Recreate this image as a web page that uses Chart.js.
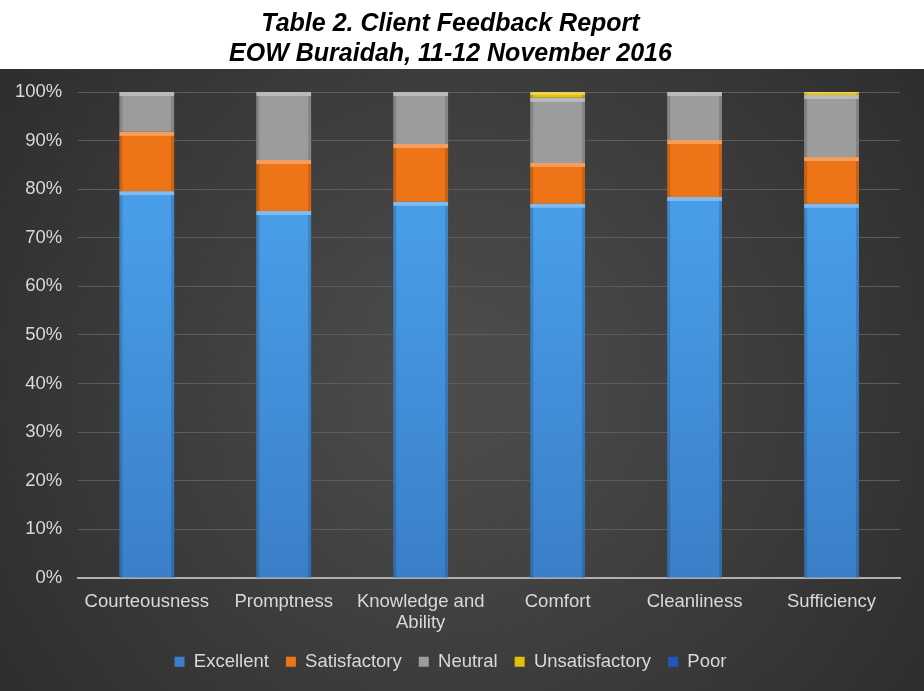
<!DOCTYPE html>
<html>
<head>
<meta charset="utf-8">
<script src="https://cdn.jsdelivr.net/npm/chart.js@4.4.0/dist/chart.umd.min.js"></script>
<style>
  html, body { margin: 0; padding: 0; background: #fff; }
  #wrap { width: 924px; height: 691px; }
</style>
</head>
<body>
<div id="wrap"><canvas id="barChart" width="924" height="691"></canvas></div>
<script>
const categories = ['Courteousness', 'Promptness', ['Knowledge and', 'Ability'], 'Comfort', 'Cleanliness', 'Sufficiency'];
const excellent = [79.6, 75.5, 77.4, 77.0, 78.4, 77.0];
const satisfactory = [12.2, 10.5, 11.9, 8.4, 11.7, 9.6];
const neutral = [8.2, 14.0, 10.7, 13.4, 9.9, 12.8];
const unsatisfactory = [0, 0, 0, 1.2, 0, 0.6];
const poor = [0, 0, 0, 0, 0, 0];
const yTicks = [0, 10, 20, 30, 40, 50, 60, 70, 80, 90, 100];

const headerHeight = 69;

// dark background below the white title band
const backgroundPlugin = {
    id: 'darkBackground',
    beforeDraw(chart) {
        const ctx = chart.ctx;
        const w = chart.width, h = chart.height;
        ctx.save();
        ctx.fillStyle = '#ffffff';
        ctx.fillRect(0, 0, w, h);
        const g = ctx.createRadialGradient(w / 2, h * 0.55, 50, w / 2, h * 0.55, w * 0.65);
        g.addColorStop(0, '#4b4b4b');
        g.addColorStop(1, '#2b2b2b');
        ctx.fillStyle = g;
        ctx.fillRect(0, headerHeight, w, h - headerHeight);
        ctx.restore();
    }
};

// light top edge on each bar segment for a bevel look
const bevelPlugin = {
    id: 'bevel',
    afterDatasetsDraw(chart) {
        const ctx = chart.ctx;
        ctx.save();
        chart.data.datasets.forEach((ds, i) => {
            const meta = chart.getDatasetMeta(i);
            if (meta.hidden) return;
            meta.data.forEach((bar, j) => {
                if (!ds.data[j]) return;
                const left = bar.x - bar.width / 2;
                const top = Math.min(bar.y, bar.base);
                const hgt = Math.abs(bar.base - bar.y);
                const edge = Math.min(4, hgt / 2);
                ctx.fillStyle = 'rgba(255,255,255,0.3)';
                ctx.fillRect(left, top, bar.width, edge);
                ctx.fillStyle = 'rgba(0,0,0,0.15)';
                ctx.fillRect(left, top + edge, 3, hgt - edge);
                ctx.fillRect(left + bar.width - 3, top + edge, 3, hgt - edge);
            });
        });
        ctx.restore();
    }
};

function blueFill(context) {
    const area = context.chart.chartArea;
    if (!area) return '#3f8fdc';
    const g = context.chart.ctx.createLinearGradient(0, area.top, 0, area.bottom);
    g.addColorStop(0, '#4ea7f2');
    g.addColorStop(1, '#3a7fc8');
    return g;
}

const font = "'Liberation Sans', Arial, sans-serif";

const chartConfig = {
    type: 'bar',
    data: {
        labels: categories,
        datasets: [
            { label: 'Excellent', data: excellent, backgroundColor: blueFill },
            { label: 'Satisfactory', data: satisfactory, backgroundColor: '#ee7418' },
            { label: 'Neutral', data: neutral, backgroundColor: '#9c9c9c' },
            { label: 'Unsatisfactory', data: unsatisfactory, backgroundColor: '#e3c10a' },
            { label: 'Poor', data: poor, backgroundColor: '#2456b8' },
        ],
    },
    options: {
        responsive: false,
        animation: false,
        categoryPercentage: 1,
        barPercentage: 0.4,
        layout: { padding: { left: 1, right: 24, top: 0, bottom: 10 } },
        plugins: {
            title: {
                display: true,
                text: ['Table 2. Client Feedback Report', 'EOW Buraidah, 11-12 November 2016'],
                color: '#000',
                font: { family: font, size: 25, weight: 'bold', style: 'italic', lineHeight: 1.2 },
                padding: { top: 9, bottom: 23 },
            },
            legend: {
                position: 'bottom',
                labels: {
                    color: '#d9d9d9',
                    boxWidth: 10,
                    boxHeight: 10,
                    padding: 17,
                    font: { family: font, size: 18.5 },
                },
            },
            tooltip: { enabled: false },
        },
        scales: {
            x: {
                stacked: true,
                grid: { display: false },
                border: { color: '#b0b0b0', width: 2 },
                ticks: { color: '#d9d9d9', font: { family: font, size: 18.5, lineHeight: 1.15 }, maxRotation: 0, padding: 5 },
                afterFit(scale) { scale.height -= 3; },
            },
            y: {
                stacked: true,
                min: 0,
                max: 100,
                afterBuildTicks(axis) { axis.ticks = yTicks.map(v => ({ value: v })); },
                afterFit(scale) { scale.width -= 2; },
                grid: { color: '#5c5c5c', drawTicks: false },
                border: { display: false },
                ticks: {
                    color: '#d9d9d9',
                    font: { family: font, size: 18.5 },
                    padding: 16,
                    callback: v => v + '%',
                },
            },
        },
    },
    plugins: [backgroundPlugin, bevelPlugin],
};

var chart = new Chart(document.getElementById('barChart'), chartConfig);
</script>
</body>
</html>
